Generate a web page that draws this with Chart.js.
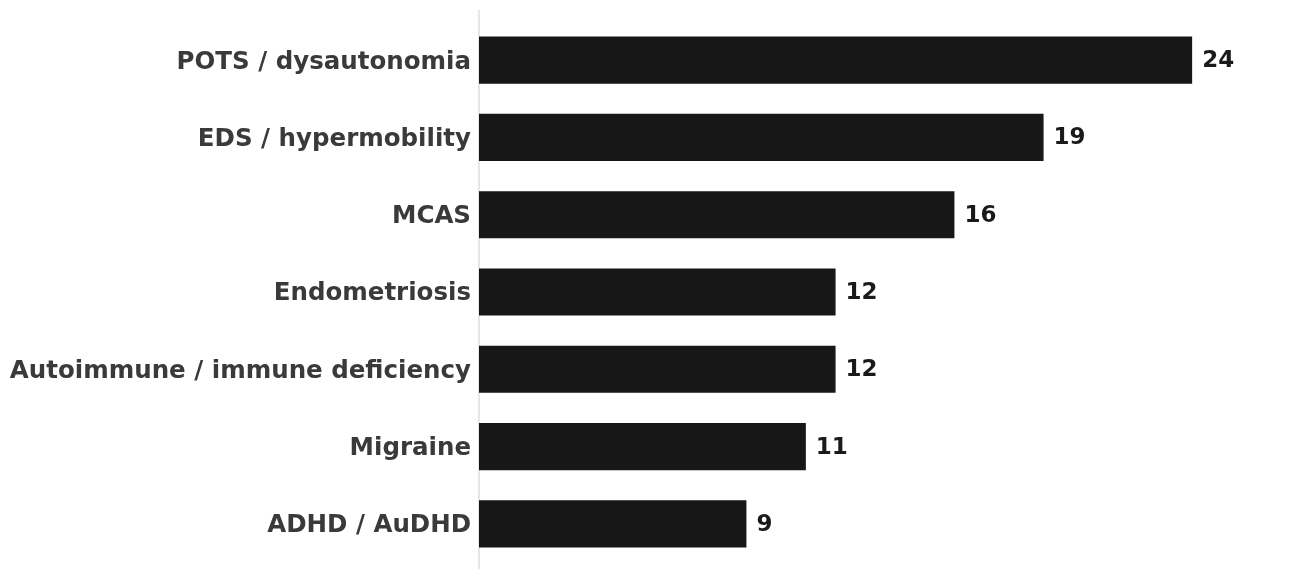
<!DOCTYPE html>
<html>
<head>
<meta charset="utf-8">
<script src="https://cdn.jsdelivr.net/npm/chart.js@4/dist/chart.umd.min.js"></script>
<style>
html,body{margin:0;padding:0;background:#fff;overflow:hidden;}
#wrap{width:1311px;height:569px;position:relative;}
</style>
</head>
<body>
<div id="wrap"><canvas id="c"></canvas></div>
<script>
const categories = ["POTS / dysautonomia","EDS / hypermobility","MCAS","Endometriosis","Autoimmune / immune deficiency","Migraine","ADHD / AuDHD"];
const counts = [24,19,16,12,12,11,9];

const valueLabels = {
  id:'valueLabels',
  afterDatasetsDraw(chart){
    const ctx = chart.ctx;
    const meta = chart.getDatasetMeta(0);
    ctx.save();
    ctx.font = 'bold 23px "DejaVu Sans"';
    ctx.fillStyle = '#1a1a1a';
    ctx.textAlign = 'left';
    ctx.textBaseline = 'middle';
    meta.data.forEach((bar,i)=>{
      ctx.fillText(String(counts[i]), bar.x + 10, bar.y + 1);
    });
    ctx.restore();
  }
};
const axisLine = {
  id:'axisLine',
  beforeDatasetsDraw(chart){
    const ctx = chart.ctx;
    const x = chart.chartArea.left;
    ctx.save();
    ctx.strokeStyle = '#e6e6ea';
    ctx.lineWidth = 2;
    ctx.beginPath();
    ctx.moveTo(x, 10);
    ctx.lineTo(x, chart.height);
    ctx.stroke();
    ctx.restore();
  }
};

new Chart(document.getElementById('c'), {
  type:'bar',
  data:{labels:categories, datasets:[{data:counts, backgroundColor:'#171717', borderWidth:0, categoryPercentage:1, barPercentage:0.61}]},
  options:{
    indexAxis:'y',
    responsive:true,
    maintainAspectRatio:false,
    animation:false,
    layout:{autoPadding:false,padding:{top:21.5,bottom:6.5,left:0,right:0}},
    plugins:{legend:{display:false},tooltip:{enabled:false}},
    scales:{
      x:{display:false,min:0,max:28,grid:{display:false}},
      y:{
        grid:{display:false,drawTicks:false},
        border:{display:false},
        afterFit(s){ s.width = 479; s.paddingTop = 0; s.paddingBottom = 0; },
        ticks:{color:'#3a3a3a',padding:8,labelOffset:2,font:{family:'"DejaVu Sans"',weight:'bold',size:24.5}}
      }
    }
  },
  plugins:[valueLabels,axisLine]
});
</script>
</body>
</html>
